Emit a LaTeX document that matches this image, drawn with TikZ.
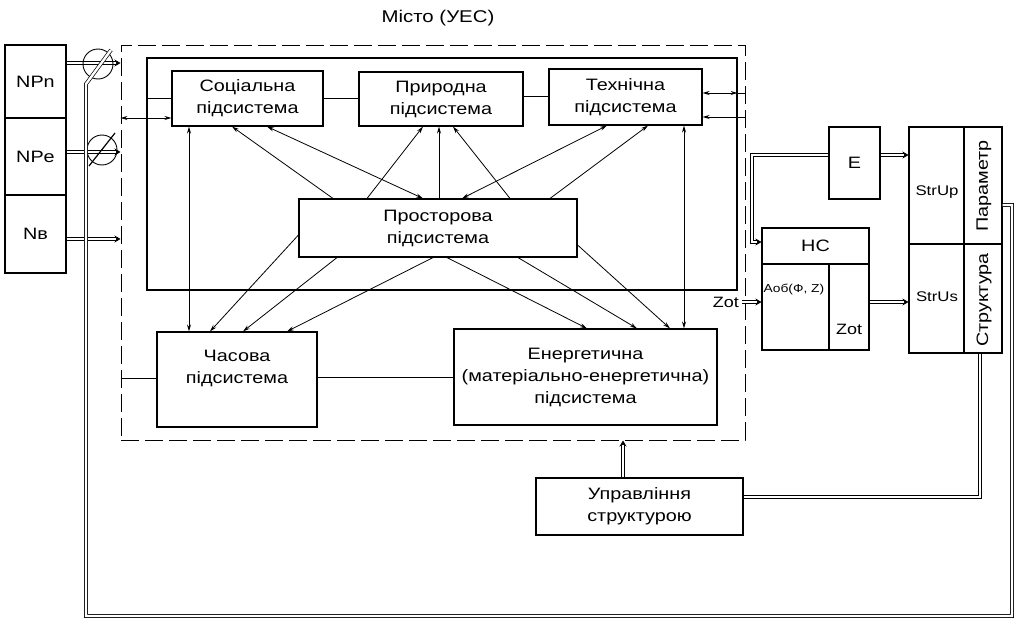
\documentclass[tikz,border=0pt]{standalone}
\usepackage{fontspec}
\setmainfont{Liberation Sans}[FakeStretch=1.2]
\usetikzlibrary{arrows.meta,calc}
\begin{document}
\begin{tikzpicture}[x=1pt,y=-1pt,
  box/.style={draw,line width=1.1pt,inner sep=0pt,align=center,font=\fontsize{16.5}{22}\selectfont},
  txt/.style={inner sep=0pt,align=center,font=\fontsize{16.5}{22}\selectfont},
  small/.style={inner sep=0pt,font=\fontsize{14}{16}\selectfont},
  ln/.style={line width=0.8pt},
  dbl/.style={double,double distance=2.4pt,line width=0.7pt},
  dtip/.style={-{Stealth[length=6pt,width=7pt]}},
  >={Stealth[length=7pt,width=4pt]}]
\useasboundingbox (0,0) rectangle (1021,624);

% title
\node[txt,font=\fontsize{17}{22}\selectfont] (title) at (438,18) {Місто (УЕС)};

% left input boxes
\node[box,minimum width=61pt,minimum height=73pt] (npn) at (35.5,81.5) {NPn};
\node[box,minimum width=61pt,minimum height=77pt] (npe) at (35.5,156.5) {NPe};
\node[box,minimum width=61pt,minimum height=78pt] (nv) at (35.5,234) {Nв};

% city (dashed) and inner frame
\node[draw,line width=1pt,dash pattern=on 18pt off 6pt,minimum width=624pt,minimum height=395pt,inner sep=0pt] (city) at (433,242.5) {};
\node[draw,line width=1.1pt,minimum width=590pt,minimum height=232pt,inner sep=0pt] (inner) at (442,174) {};

% subsystems
\node[box,minimum width=151pt,minimum height=55pt] (soc) at (247.5,98.5) {Соціальна\\підсистема};
\node[box,minimum width=164pt,minimum height=54pt] (prir) at (441,99) {Природна\\підсистема};
\node[box,minimum width=153pt,minimum height=56pt] (tech) at (625.5,97) {Технічна\\підсистема};
\node[box,minimum width=278pt,minimum height=58pt] (prost) at (438,228) {Просторова\\підсистема};
\node[box,minimum width=160pt,minimum height=95pt] (chas) at (237,379.5) {};
\node[txt] (chast) at (237,368) {Часова\\підсистема};
\node[box,minimum width=263pt,minimum height=96pt] (energ) at (585.5,377) {Енергетична\\(матеріально-енергетична)\\підсистема};
\node[box,minimum width=207pt,minimum height=57pt] (upr) at (639.5,506.5) {Управління\\структурою};

% HC block
\node[box,minimum width=107pt,minimum height=36pt] (hchead) at (815.5,246) {HC};
\node[box,minimum width=67pt,minimum height=86pt] (hcl) at (795.5,307) {};
\node[box,minimum width=40pt,minimum height=86pt] (hcr) at (849,307) {};
\node[inner sep=0pt,anchor=west,font=\fontsize{11.5}{13}\selectfont] (aob) at (763.5,289) {Аоб(Ф, Z)};
\node[inner sep=0pt,font=\fontsize{15}{17}\selectfont] (zotr) at (849,329) {Zot};
\node[inner sep=0pt,anchor=east,font=\fontsize{15}{17}\selectfont] (zotin) at (739,302) {Zot};

% E block
\node[box,minimum width=51pt,minimum height=72pt] (e) at (854.5,163) {E};

% right block
\node[box,minimum width=55pt,minimum height=117pt] (rup) at (936.5,185.5) {};
\node[box,minimum width=38pt,minimum height=117pt] (rpar) at (983,185.5) {};
\node[box,minimum width=55pt,minimum height=109pt] (rus) at (936.5,298.5) {};
\node[box,minimum width=38pt,minimum height=109pt] (rstr) at (983,298.5) {};
\node[small] (strup) at (937,192) {StrUp};
\node[small] (strus) at (937,297) {StrUs};
\node[txt,rotate=90] (param) at (984,186) {Параметр};
\node[txt,rotate=90] (struct) at (984,300) {Структура};

% left double inputs
\draw[dbl,dtip] (npn.east |- 0,63) -- (city.west |- 0,63);
\draw[dbl,dtip] (npe.east |- 0,152) -- (city.west |- 0,152);
\draw[dbl,dtip] (nv.east |- 0,239) -- (city.west |- 0,239);

% valves
\node[draw,circle,minimum size=30pt,inner sep=0pt,line width=0.9pt] (v1) at (98,64) {};
\node[draw,circle,minimum size=30pt,inner sep=0pt,line width=0.9pt] (v2) at (102,150) {};
\draw[line width=1.2pt] (89,166) -- (115,133);

% feedback from Parametr to valve 1
\draw[dbl] (rpar.east |- 0,205) -- (1012,205) -- (1012,616) -- (86,616) -- (86,84) -- (111,50);

% Struktura to Upravlinnya
\draw[dbl] (rstr.south -| 980,0) -- (980,497) -- (upr.east |- 0,497);
% Upravlinnya to city
\draw[dbl,dtip] (upr.north -| 623,0) -- (city.south -| 623,0);

% E and HC connections
\draw[dbl,dtip] (e.west |- 0,155) -- (752,155) -- (752,242) -- (hchead.west |- 0,242);
\draw[dbl,dtip] (e.east |- 0,155) -- (rup.west |- 0,155);
\draw[dbl,dtip] (hcr.east |- 0,302) -- (rus.west |- 0,302);
\draw[dbl,dtip] (zotin.east) ++(3,0) -- (hcl.west |- zotin.east);

% plain links
\draw[ln] (inner.west |- soc.west) -- (soc.west);
\draw[ln,<->] (city.west |- 0,118) -- (soc.west |- 0,118);
\draw[ln] (soc.east) -- (soc.east -| prir.west);
\draw[ln] (prir.east |- 0,96) -- (tech.west |- 0,96);
\draw[ln,<->] (tech.east |- 0,93) -- (inner.east |- 0,93);
\draw[ln] (inner.east |- 0,93) -- (city.east |- 0,93);
\draw[ln,->] (city.east |- 0,117) -- (tech.east |- 0,117);
\draw[ln] (city.west |- 0,378) -- (chas.west |- 0,378);
\draw[ln] (chas.east |- 0,377) -- (energ.west |- 0,377);

% vertical arrows
\draw[ln,<->] (soc.south -| 189,0) -- (chas.north -| 189,0);
\draw[ln,<->] (tech.south -| 684,0) -- (energ.north -| 684,0);

% diagonals upward
\draw[ln,->] (prost.north -| 333,0) -- (soc.south -| 232,0);
\draw[ln,<->] (soc.south -| 267,0) -- (prost.north -| 423,0);
\draw[ln,->] (prost.north -| 367,0) -- (prir.south -| 423,0);
\draw[ln,->] (prost.north -| 439,0) -- (prir.south -| 439,0);
\draw[ln,->] (prost.north -| 510,0) -- (prir.south -| 453,0);
\draw[ln,<->] (tech.south -| 607,0) -- (prost.north -| 462,0);
\draw[ln,->] (prost.north -| 550,0) -- (tech.south -| 648,0);

% diagonals downward
\draw[ln,->] (prost.west |- 0,235) -- (chas.north -| 210,0);
\draw[ln,->] (prost.south -| 337,0) -- (chas.north -| 243,0);
\draw[ln,->] (prost.south -| 433,0) -- (chas.north -| 287,0);
\draw[ln,->] (prost.south -| 447,0) -- (energ.north -| 587,0);
\draw[ln,->] (prost.south -| 518,0) -- (energ.north -| 637,0);
\draw[ln,->] (prost.east |- 0,245) -- (energ.north -| 670,0);
\end{tikzpicture}
\end{document}
